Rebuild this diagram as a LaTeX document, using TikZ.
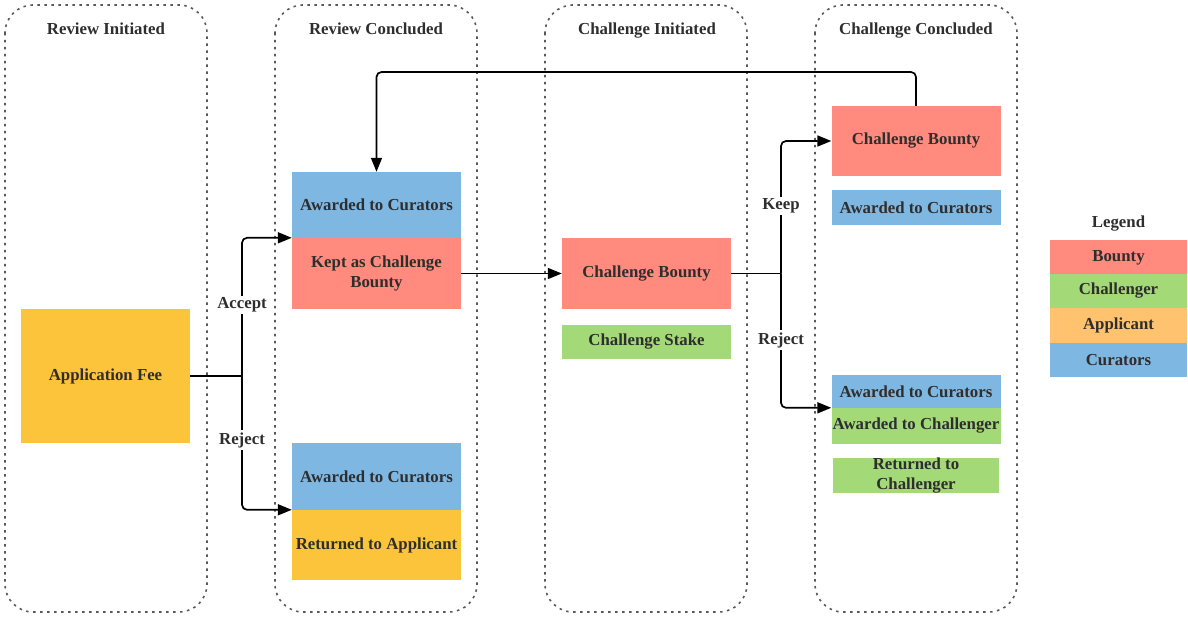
\documentclass[tikz,border=0pt]{standalone}
\usepackage{fontspec}
\setmainfont{Liberation Serif}
\usetikzlibrary{arrows.meta}

\definecolor{bountyred}{HTML}{FF8A7D}
\definecolor{curatorblue}{HTML}{7EB7E2}
\definecolor{applicantyellow}{HTML}{FCC43A}
\definecolor{challengergreen}{HTML}{A3D977}
\definecolor{legendorange}{HTML}{FFC26E}
\definecolor{textgray}{HTML}{2E2E2E}

\tikzset{
  lane/.style={draw=black!65, line width=1.6pt, dash pattern=on 2.5pt off 4.5pt, rounded corners=28pt},
  box/.style={inner sep=0pt, align=center, text=textgray, minimum width=169pt},
  head/.style={text=textgray, anchor=base},
  flow/.style={line width=1.7pt, rounded corners=5pt, -{Triangle[length=14pt,width=11pt]}},
  wire/.style={line width=1.7pt},
  tag/.style={fill=white, inner sep=2pt, text=textgray}
}

\begin{document}
\begin{tikzpicture}[x=1pt,y=-1pt,font=\fontsize{16.8}{20.5}\selectfont\bfseries]
\useasboundingbox (0,0) rectangle (1188,617);

% lanes
\draw[lane] (5,5) rectangle (207,612);
\draw[lane] (275,5) rectangle (477,612);
\draw[lane] (545,5) rectangle (747,612);
\draw[lane] (815,5) rectangle (1017,612);

\node[head] (h1) at (106,35) {Review Initiated};
\node[head] (h2) at (376,35) {Review Concluded};
\node[head] (h3) at (647,35) {Challenge Initiated};
\node[head] (h4) at (916,35) {Challenge Concluded};

% review initiated
\node[box, fill=applicantyellow, minimum height=134pt] (fee) at (105.5,376) {Application Fee};

% review concluded
\node[box, fill=curatorblue, minimum height=66pt] (acccur) at (376.5,205) {Awarded to Curators};
\node[box, fill=bountyred, minimum height=71pt] (kept) at (376.5,273.5) {Kept as Challenge\\Bounty};
\node[box, fill=curatorblue, minimum height=67pt] (rejcur) at (376.5,476.5) {Awarded to Curators};
\node[box, fill=applicantyellow, minimum height=70pt] (returned) at (376.5,545) {Returned to Applicant};

% challenge initiated
\node[box, fill=bountyred, minimum height=71pt] (bounty) at (646.5,273.5) {Challenge Bounty};
\node[box, fill=challengergreen, minimum height=34pt] (stake) at (646.5,342) {Challenge Stake};

% challenge concluded
\node[box, fill=bountyred, minimum height=70pt] (keptbounty) at (916,141) {Challenge Bounty};
\node[box, fill=curatorblue, minimum height=35pt] (keepcur) at (916,207.5) {Awarded to Curators};
\node[box, fill=curatorblue, minimum height=33pt] (rejcur2) at (916,391.5) {Awarded to Curators};
\node[box, fill=challengergreen, minimum height=36pt] (challenger) at (916,426) {Awarded to Challenger};
\node[box, fill=challengergreen, minimum height=35pt, minimum width=166pt] (stakeback) at (916,475.5) {Returned to\\Challenger};

% legend
\node[head] (legend) at (1118.5,228) {Legend};
\node[box, fill=bountyred, minimum width=137pt, minimum height=34pt] (lbounty) at (1118.5,257.5) {Bounty};
\node[box, fill=challengergreen, minimum width=137pt, minimum height=34pt] (lchallenger) at (1118.5,291) {Challenger};
\node[box, fill=legendorange, minimum width=137pt, minimum height=35pt] (lapplicant) at (1118.5,325.5) {Applicant};
\node[box, fill=curatorblue, minimum width=137pt, minimum height=34pt] (lcurators) at (1118.5,360) {Curators};

% connectors
\coordinate (split1) at (242,376);
\coordinate (split2) at (781,273.5);
\coordinate (loop) at (916,72);

\draw[wire] (fee.east) -- (split1);
\draw[flow] (split1) |- (kept.north west);
\draw[flow] (split1) |- (returned.north west);
\node[tag] (accept) at (242,305) {Accept};
\node[tag] (reject) at (242,440) {Reject};

\draw[flow] (kept.east) -- (bounty.west);

\draw[wire] (bounty.east) -- (split2);
\draw[flow] (split2) |- (keptbounty.west);
\draw[flow] (split2) |- (challenger.north west);
\node[tag] (keep) at (781,206) {Keep};
\node[tag] (reject2) at (781,340) {Reject};

\draw[flow] (keptbounty.north) -- (loop) -| (acccur.north);
\end{tikzpicture}
\end{document}
